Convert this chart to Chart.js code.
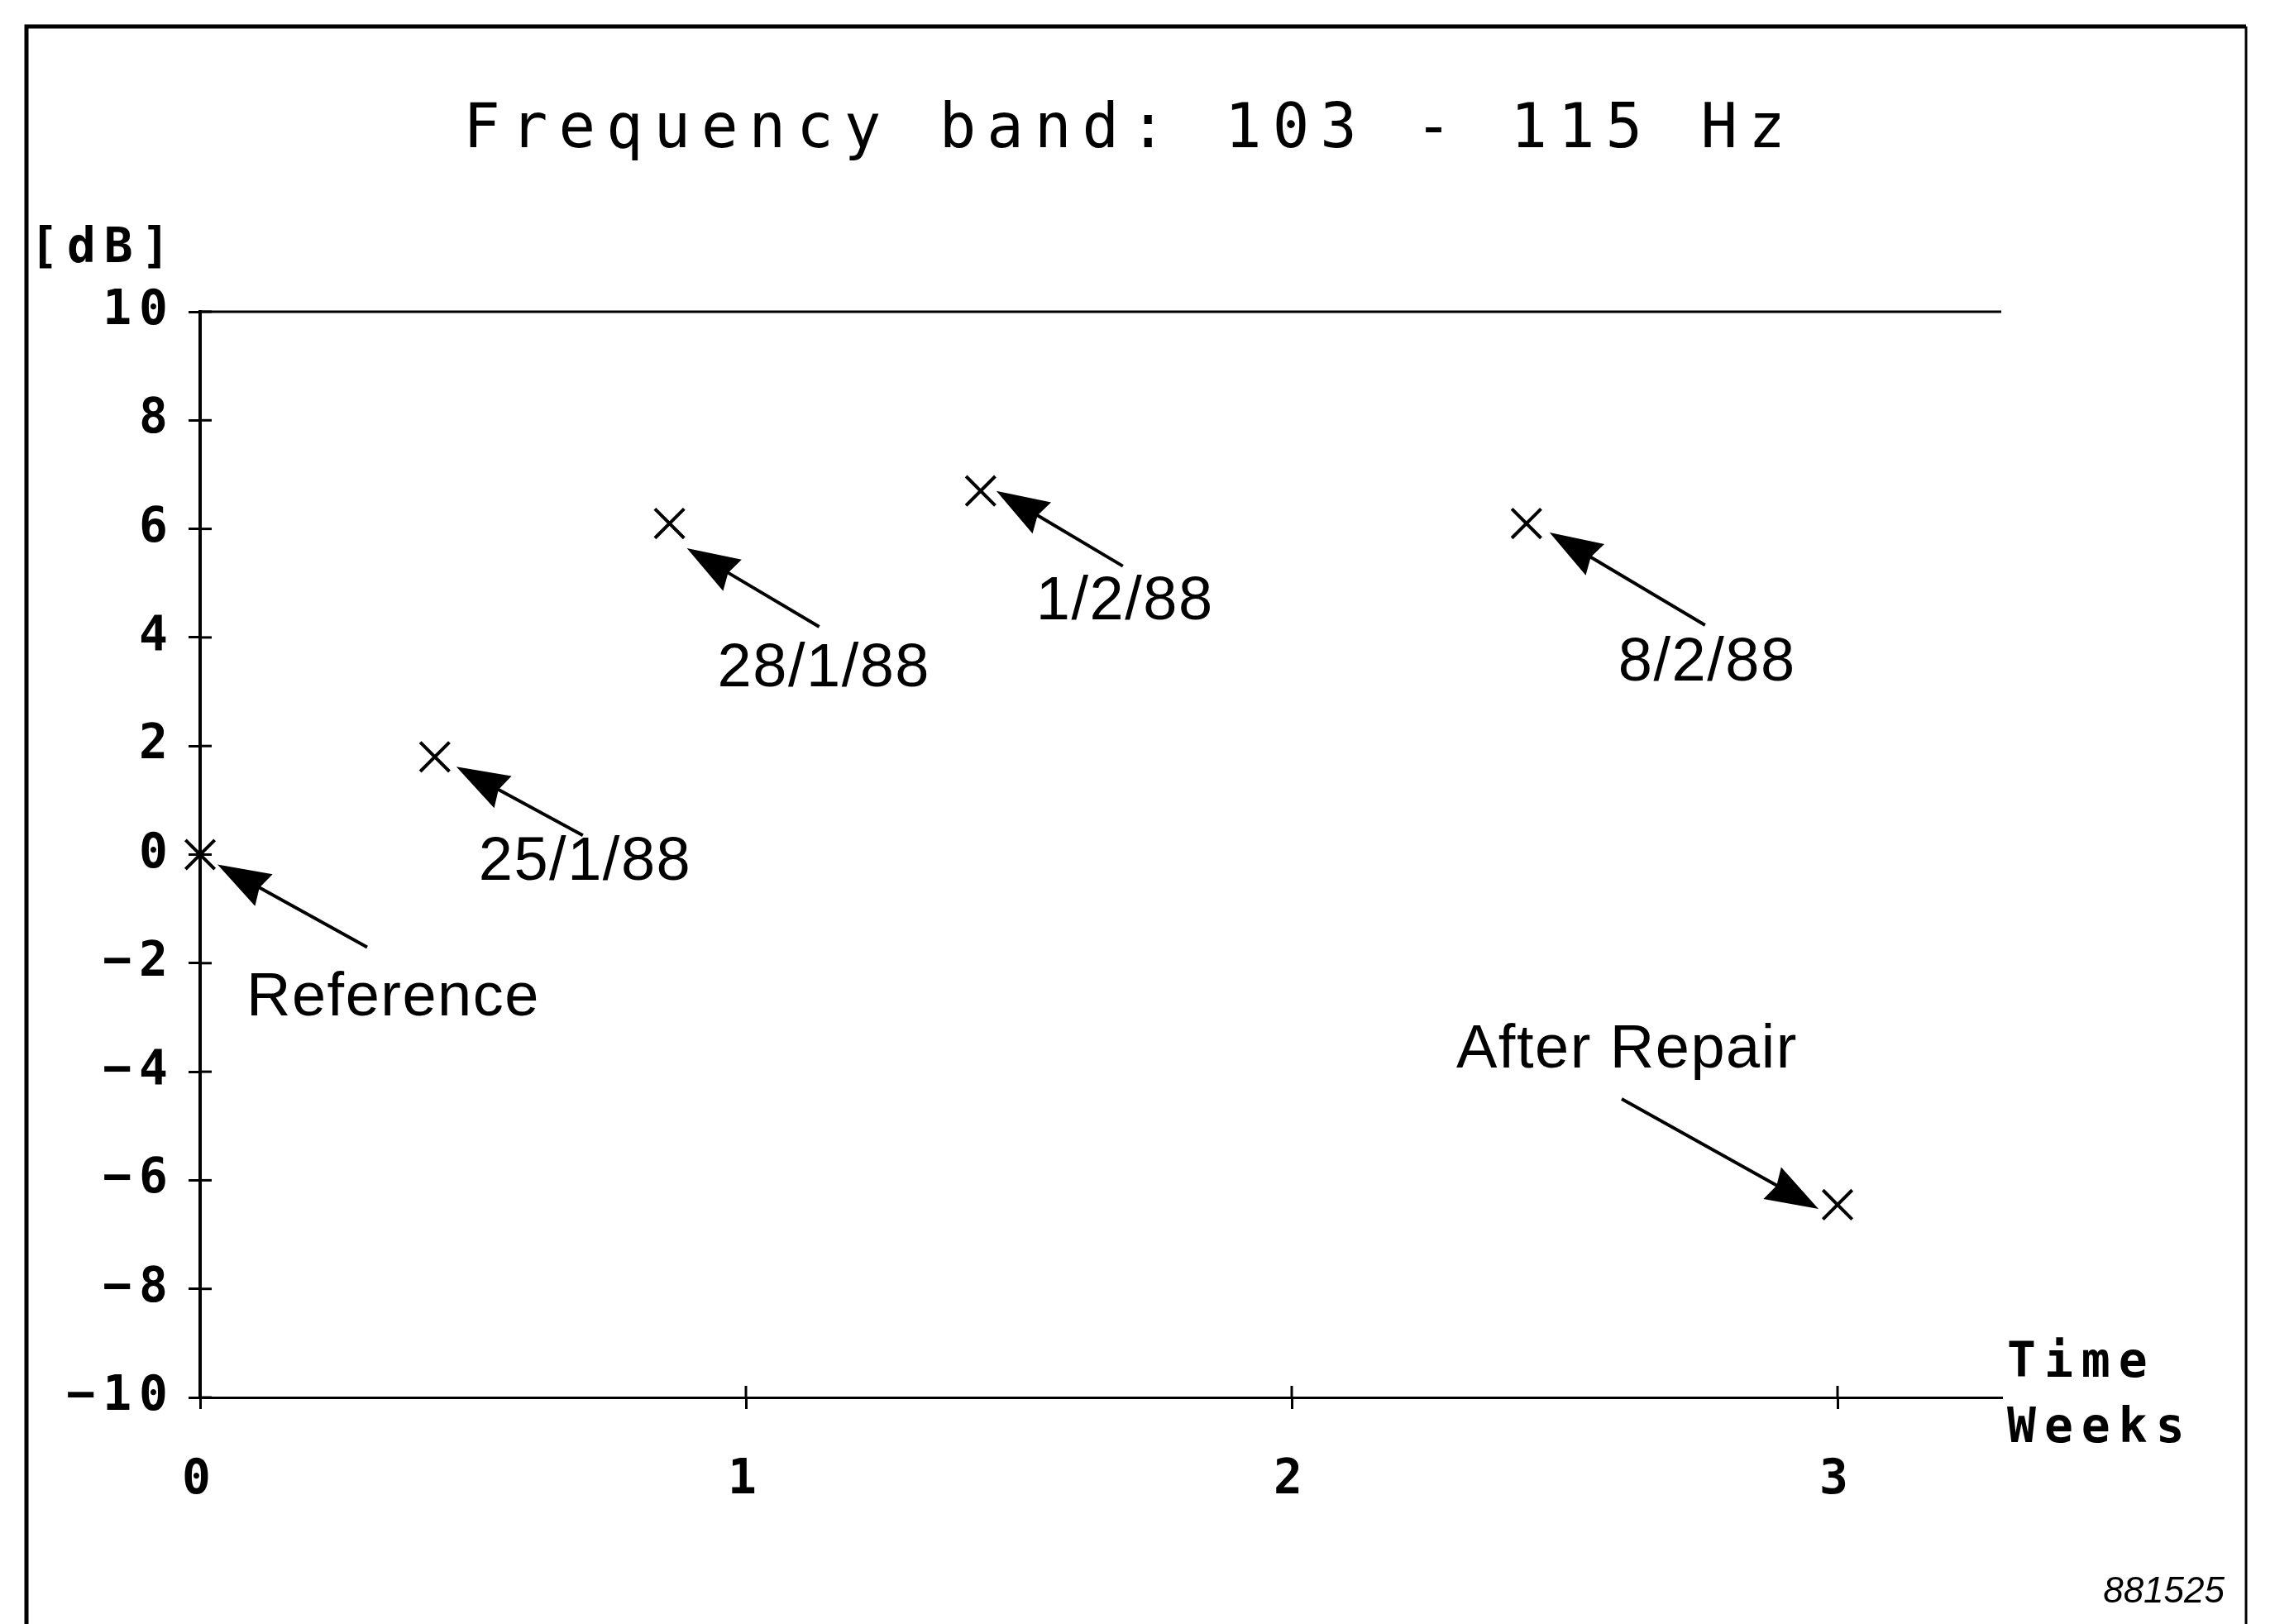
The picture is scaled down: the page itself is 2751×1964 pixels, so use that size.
<!DOCTYPE html>
<html>
<head>
<meta charset="utf-8">
<script src="https://cdn.jsdelivr.net/npm/chart.js@4.4.1/dist/chart.umd.min.js"></script>
<style>
  html, body { margin: 0; padding: 0; background: #fff; }
  #wrap { width: 2751px; height: 1964px; }
</style>
</head>
<body>
<div id="wrap"><canvas id="bandChart" width="2751" height="1964"></canvas></div>
<script>
// measurements: time since reference (weeks) and level change (dB)
const weeks = [0, 0.43, 0.86, 1.43, 2.43, 3.0];
const levels = [0, 1.8, 6.1, 6.7, 6.1, -6.45];
const pointNames = ['Reference', '25/1/88', '28/1/88', '1/2/88', '8/2/88', 'After Repair'];

const xTicks = [0, 1, 2, 3];
const yTicks = [-10, -8, -6, -4, -2, 0, 2, 4, 6, 8, 10];

const chartTitle = 'Frequency band: 103 - 115 Hz';
const yUnit = '[dB]';
const xUnit = ['Time', 'Weeks'];
const figNumber = '881525';

// callout offsets in px from each point: arrow tip, arrow tail, text anchor
const callouts = [
  { tip: [21, 12], tail: [202, 112], text: [56, 174] },
  { tip: [26, 12], tail: [179, 95], text: [53, 128] },
  { tip: [21, 30], tail: [181, 125], text: [58, 177] },
  { tip: [19, 0], tail: [172, 91], text: [67, 135] },
  { tip: [28, 11], tail: [216, 123], text: [111, 170] },
  { tip: [-23, 5], tail: [-261, -128], text: [-461, -186] }
];

const monoFont = '"DejaVu Sans Mono", monospace';
const sansFont = '"Liberation Sans", Arial, sans-serif';

function line(ctx, x1, y1, x2, y2) {
  ctx.beginPath();
  ctx.moveTo(x1, y1);
  ctx.lineTo(x2, y2);
  ctx.stroke();
}

function arrow(ctx, x1, y1, x2, y2) {
  // shaft from (x1,y1), filled head ending at (x2,y2)
  const a = Math.atan2(y2 - y1, x2 - x1);
  const len = 64, half = 22;
  const bx = x2 - Math.cos(a) * len, by = y2 - Math.sin(a) * len;
  line(ctx, x1, y1, bx + Math.cos(a) * 10, by + Math.sin(a) * 10);
  ctx.beginPath();
  ctx.moveTo(x2, y2);
  ctx.lineTo(bx - Math.sin(a) * half, by + Math.cos(a) * half);
  ctx.lineTo(bx + Math.cos(a) * 6, by + Math.sin(a) * 6);
  ctx.lineTo(bx + Math.sin(a) * half, by - Math.cos(a) * half);
  ctx.closePath();
  ctx.fill();
}

const plotterDecor = {
  id: 'plotterDecor',
  beforeDraw(chart) {
    chart.ctx.letterSpacing = '9px';
  },
  afterDraw(chart) {
    const ctx = chart.ctx;
    const { left, right, bottom } = chart.chartArea;
    const xs = chart.scales.x, ys = chart.scales.y;
    ctx.save();
    ctx.strokeStyle = '#000';
    ctx.fillStyle = '#000';

    // outer frame
    ctx.lineWidth = 5;
    ctx.beginPath();
    ctx.moveTo(32, chart.height);
    ctx.lineTo(32, 32);
    ctx.lineTo(2716, 32);
    ctx.stroke();
    ctx.lineWidth = 3;
    line(ctx, 2716, 32, 2716, chart.height);

    // top line at the y maximum
    const yTop = ys.getPixelForValue(ys.max);
    line(ctx, left, yTop, right, yTop);

    // inner halves of the crossing ticks
    ys.ticks.forEach(t => {
      const y = ys.getPixelForValue(t.value);
      line(ctx, left, y, left + 14, y);
    });
    xs.ticks.forEach(t => {
      const x = xs.getPixelForValue(t.value);
      line(ctx, x, bottom, x, bottom - 14);
    });

    // callouts
    ctx.lineWidth = 4;
    ctx.letterSpacing = '1.5px';
    ctx.font = '74px ' + sansFont;
    ctx.textAlign = 'left';
    ctx.textBaseline = 'middle';
    weeks.forEach((w, i) => {
      const px = xs.getPixelForValue(w);
      const py = ys.getPixelForValue(levels[i]);
      const c = callouts[i];
      arrow(ctx, px + c.tail[0], py + c.tail[1], px + c.tip[0], py + c.tip[1]);
      ctx.fillText(pointNames[i], px + c.text[0], py + c.text[1]);
    });

    // title and axis units in plotter style
    ctx.font = '74px ' + monoFont;
    ctx.letterSpacing = '13px';
    ctx.textAlign = 'center';
    ctx.fillText(chartTitle, 1366, 159);

    ctx.font = 'bold 58px ' + monoFont;
    ctx.letterSpacing = '10px';
    ctx.textAlign = 'left';
    ctx.fillText(yUnit, 36, 302);
    ctx.fillText(xUnit[0], 2427, 1650);
    ctx.fillText(xUnit[1], 2427, 1729);

    ctx.letterSpacing = '0px';
    ctx.font = 'italic 44px ' + sansFont;
    ctx.textAlign = 'right';
    ctx.fillText(figNumber, 2690, 1926);
    ctx.restore();
  }
};

function fmtTick(v) {
  return v < 0 ? '\u2212' + (-v) : String(v);
}

const ctx = document.getElementById('bandChart').getContext('2d');
new Chart(ctx, {
  type: 'scatter',
  data: {
    datasets: [{
      data: weeks.map((w, i) => ({ x: w, y: levels[i] })),
      pointStyle: 'crossRot',
      pointRadius: 25,
      pointBorderWidth: 4,
      borderColor: '#000',
      backgroundColor: '#000',
      showLine: false,
      clip: false
    }]
  },
  options: {
    responsive: false,
    animation: false,
    layout: { padding: { left: 0, top: 377, right: 331, bottom: 0 } },
    plugins: {
      legend: { display: false },
      title: { display: false },
      tooltip: { enabled: false }
    },
    scales: {
      x: {
        type: 'linear',
        min: 0,
        max: 3.3,
        afterBuildTicks: s => { s.ticks = xTicks.map(v => ({ value: v })); },
        afterFit: s => { s.height = 274; },
        grid: { drawOnChartArea: false, drawTicks: true, tickLength: 14, color: '#000', lineWidth: 3 },
        border: { display: true, color: '#000', width: 3 },
        ticks: {
          color: '#000',
          padding: 52,
          maxRotation: 0,
          font: { family: monoFont, size: 58, weight: 'bold' },
          callback: v => fmtTick(v)
        }
      },
      y: {
        type: 'linear',
        min: -10,
        max: 10,
        afterBuildTicks: s => { s.ticks = yTicks.map(v => ({ value: v })); },
        afterFit: s => { s.width = 242; },
        grid: { drawOnChartArea: false, drawTicks: true, tickLength: 14, color: '#000', lineWidth: 3 },
        border: { display: true, color: '#000', width: 4 },
        ticks: {
          color: '#000',
          padding: 16,
          font: { family: monoFont, size: 58, weight: 'bold' },
          callback: v => fmtTick(v)
        }
      }
    }
  },
  plugins: [plotterDecor]
});
</script>
</body>
</html>
